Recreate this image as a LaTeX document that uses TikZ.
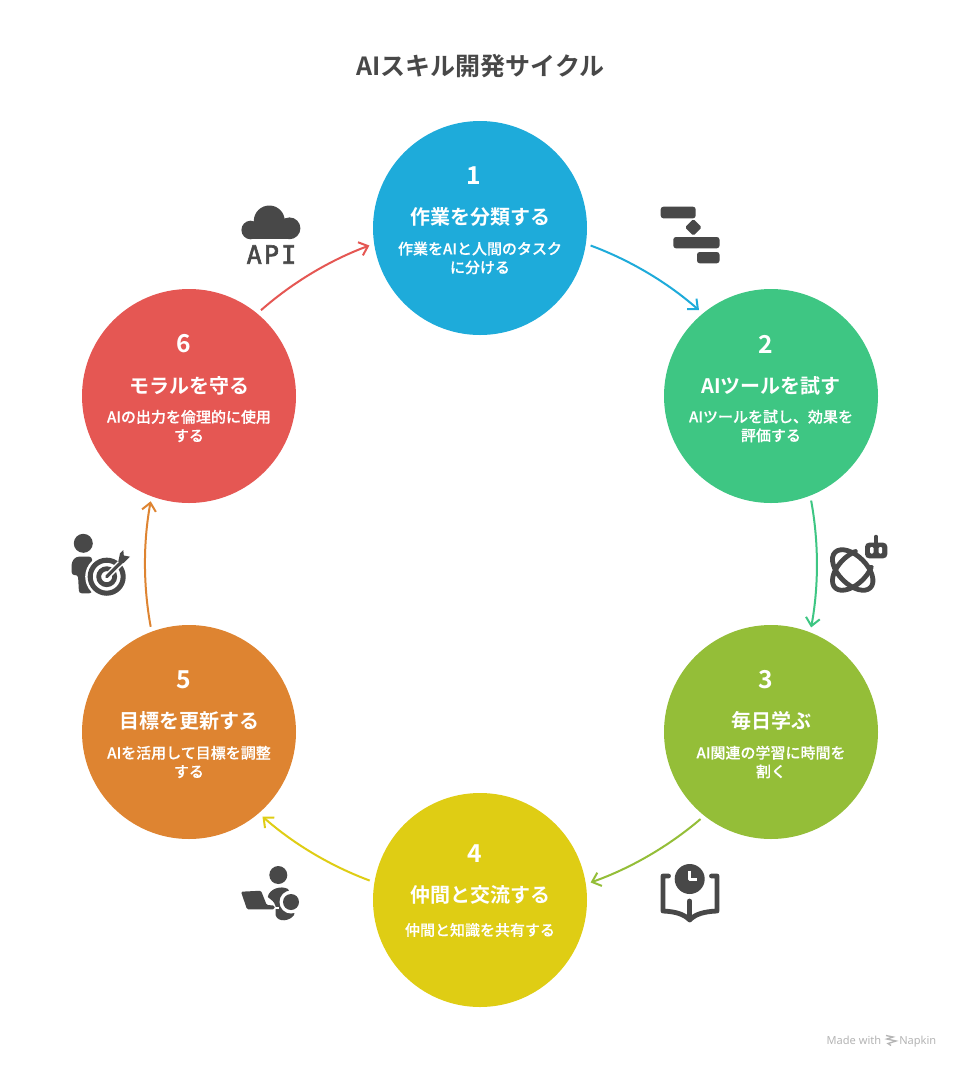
\documentclass[tikz,border=0pt]{standalone}
\usepackage{fontspec}
\usetikzlibrary{arrows.meta,calc}
\setmainfont{Noto Sans CJK JP}[BoldFont={* Bold}]
\newfontfamily\medfont{Noto Sans CJK JP Medium}[FakeBold=0.15]
\newfontfamily\monofnt{DejaVu Sans Mono}[FakeBold=2.2,LetterSpace=8]
\newfontfamily\footfnt{Noto Sans}
\definecolor{iconc}{HTML}{484848}
\definecolor{c1}{HTML}{1EABDA}
\definecolor{c2}{HTML}{3EC683}
\definecolor{c3}{HTML}{94BE38}
\definecolor{c4}{HTML}{DFCD14}
\definecolor{c5}{HTML}{DE8431}
\definecolor{c6}{HTML}{E55753}
\definecolor{footc}{HTML}{B5B5B5}
\tikzset{
  x=0.75pt,y=-0.75pt,
  stepcircle/.style={circle,fill=#1,draw=none,minimum size=160.5pt,inner sep=0pt,outer sep=3.75pt},
  numtext/.style={text=white,font=\fontsize{18.5pt}{20pt}\bfseries\selectfont,inner sep=0pt},
  headtext/.style={text=white,font=\fontsize{15pt}{18pt}\bfseries\selectfont,inner sep=0pt},
  subtext/.style={text=white,font=\fontsize{11.25pt}{14pt}\medfont\selectfont,inner sep=0pt,align=center},
  cyclearrow/.style={draw=#1,line width=1.5pt,-{Straight Barb[length=6pt,width=10.5pt,line width=1.5pt]}},
  iconline/.style={draw=iconc,line width=3.6pt,line cap=round,line join=round},
}
\begin{document}
\begin{tikzpicture}
\useasboundingbox (0,0) rectangle (960,1068);
\fill[white] (0,0) rectangle (960,1068);

\node[text=iconc,font=\fontsize{18.75pt}{22pt}\bfseries\selectfont,inner sep=0pt] (title) at (480.5,66) {AIスキル開発サイクル};

% circles
\node[stepcircle=c1] (n1) at (480,228) {};
\node[stepcircle=c2] (n2) at (771,396) {};
\node[stepcircle=c3] (n3) at (771,732) {};
\node[stepcircle=c4] (n4) at (480,900) {};
\node[stepcircle=c5] (n5) at (189,732) {};
\node[stepcircle=c6] (n6) at (189,396) {};

% texts
\node[numtext] (num1) at (474,176) {1};
\node[headtext] (head1) at (480,217) {作業を分類する};
\node[subtext] (sub1) at (480,258) {作業をAIと人間のタスク\\に分ける};

\node[numtext] (num2) at (765.5,344) {2};
\node[headtext] (head2) at (771,386) {AIツールを試す};
\node[subtext] (sub2) at (771,426) {AIツールを試し、効果を\\評価する};

\node[numtext] (num3) at (765.5,680) {3};
\node[headtext] (head3) at (771,721) {毎日学ぶ};
\node[subtext] (sub3) at (771,762) {AI関連の学習に時間を\\割く};

\node[numtext] (num4) at (474.5,854) {4};
\node[headtext] (head4) at (480,895) {仲間と交流する};
\node[subtext] (sub4) at (480,930) {仲間と知識を共有する};

\node[numtext] (num5) at (183.5,680) {5};
\node[headtext] (head5) at (189,721) {目標を更新する};
\node[subtext] (sub5) at (189,762) {AIを活用して目標を調整\\する};

\node[numtext] (num6) at (183.5,344) {6};
\node[headtext] (head6) at (189,386) {モラルを守る};
\node[subtext] (sub6) at (189,426) {AIの出力を倫理的に使用\\する};

% connectors
\draw[cyclearrow=c1] (n1.-9) to[bend left=10.5,looseness=.85] (n2.130.7);
\draw[cyclearrow=c2] (n2.-69) to[bend left=10.5,looseness=.85] (n3.69.2);
\draw[cyclearrow=c3] (n3.-129.7) to[bend left=10.5,looseness=.85] (n4.9);
\draw[cyclearrow=c4] (n4.170.2) to[bend left=10.5,looseness=.85] (n5.-49.7);
\draw[cyclearrow=c5] (n5.110.7) to[bend left=10.5,looseness=.85] (n6.-110.8);
\draw[cyclearrow=c6] (n6.50.3) to[bend left=10.5,looseness=.85] (n1.189);

% icon 1: gantt
\fill[iconc,rounded corners=2pt] (660.7,206.7) rectangle (695.7,218.3);
\fill[iconc,rounded corners=1.2pt] (693.3,219) -- (701.7,227.3) -- (693.3,235.7) -- (685,227.3) -- cycle;
\fill[iconc,rounded corners=2pt] (673.3,237) rectangle (719.5,248.3);
\fill[iconc,rounded corners=2pt] (697,252) rectangle (719.5,263.3);

% icon 2: atom + robot
\begin{scope}[shift={(852.7,570)},rotate=45]
  \draw[iconline] (53:25 and 14) arc[start angle=53,end angle=307,x radius=25,y radius=14];
\end{scope}
\begin{scope}[shift={(852.7,570)},rotate=-45]
  \draw[iconline] (0:25 and 14) arc[start angle=0,end angle=360,x radius=25,y radius=14];
\end{scope}
\fill[iconc,rounded corners=3pt] (865,542.7) rectangle (887.3,558.3);
\draw[iconline,line width=2.6pt] (876,536.5) -- (876,543);
\fill[white,rounded corners=.8pt] (870,547) rectangle (873.5,553.5);
\fill[white,rounded corners=.8pt] (878.7,547) rectangle (882.2,553.5);

% icon 3: book + clock
\fill[iconc] (689.7,879) circle[radius=15];
\draw[white,line width=2.4pt,line join=round] (689.7,870.7) -- (689.7,879.5) -- (697,879.5);
\draw[iconline] (668.5,876) -- (663,876) -- (663,911) .. controls (675,911.5) and (684,914) .. (689.7,920) .. controls (695.3,914) and (704.5,911.5) .. (717,911) -- (717,876) -- (711.5,876);
\draw[iconline] (689.7,901) -- (689.7,919);

% icon 4: person + laptop
\fill[iconc] (278.3,875) circle[radius=9];
\fill[iconc,rounded corners=1pt] (241,891.7) -- (261,890.7) -- (266.7,905) -- (274.5,905.5) -- (274.5,909.3) -- (247,909.3) -- cycle;
\fill[iconc] (267.8,897) .. controls (269,889) and (281,885) .. (288,889) -- (296,905) -- (294,915) .. controls (290,921) and (278,923) .. (275.5,915) -- (275.5,906) .. controls (274,900) and (270,900) .. (267.8,897) -- cycle;
\fill[white] (291,902) circle[radius=11.5];
\fill[white] (275,907) rectangle (279,908.5);
\fill[iconc] (291,902) circle[radius=8];

% icon 5: person + target
\fill[iconc] (83.3,543.3) circle[radius=9.5];
\fill[iconc,rounded corners=2pt] (71.7,575) -- (71.7,562) -- (76,556.7) -- (92,556.7) -- (92,593.3) -- (79,593.3) -- (78,575) -- cycle;
\fill[white] (106.7,576.7) circle[radius=21.5];
\draw[iconc,line width=3.8pt] (106.7,576.7) circle[radius=16.5];
\draw[iconc,line width=3.6pt] (106.7,576.7) circle[radius=8];
\draw[white,line width=4.6pt] (106.7,576.7) -- (126,557.5);
\draw[iconc,line width=2.4pt,line cap=round] (106.7,576.7) -- (122,561.5);
\fill[iconc] (120,553.3) -- (123.3,550) -- (123.8,555.5) -- (130,556.7) -- (123.5,563) -- (118.3,561.7) -- cycle;

% icon 6: cloud + API
\fill[iconc] (269.3,221) circle[radius=15.5];
\fill[iconc] (250.7,230) circle[radius=9.3];
\fill[iconc] (289.5,228.3) circle[radius=10.9];
\fill[iconc] (250.7,224) rectangle (289.5,239.3);
\node[text=iconc,font=\fontsize{19pt}{22pt}\monofnt\selectfont,inner sep=0pt] (api) at (271.5,254.5) {API};

% footer
\node[text=footc,font=\fontsize{8.3pt}{10pt}\footfnt\selectfont,inner sep=0pt,anchor=base east] (made) at (881.5,1044) {Made with};
\node[text=footc,font=\fontsize{8.3pt}{10pt}\footfnt\selectfont,inner sep=0pt,anchor=base west] (napkin) at (899,1044) {Napkin};
\draw[footc,line width=1pt] (886,1035.5) -- (893,1037) -- (887,1039) -- (896,1041) -- (888,1043.5) -- (891,1045.5);
\end{tikzpicture}
\end{document}
